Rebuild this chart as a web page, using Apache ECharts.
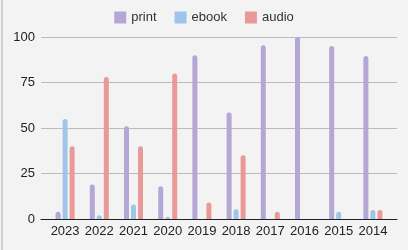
<!DOCTYPE html>
<html><head><meta charset="utf-8">
<script src="https://cdn.jsdelivr.net/npm/echarts@6/dist/echarts.min.js"></script>
<style>html,body{margin:0;padding:0;background:#f3f3f3;}#c{width:408px;height:250px;}</style>
</head><body><div id="c"></div>
<script>
const categories = ['2023','2022','2021','2020','2019','2018','2017','2016','2015','2014'];
const printVals = [4, 19, 51, 18, 90, 58.5, 95.5, 100, 95, 89.5];
const ebookVals = [55, 2, 8, 1.3, 0, 5.3, 0, 0, 4, 5];
const audioVals = [40, 78, 40, 80, 9, 35, 4, 0, 0, 5];
const yTicks = [0, 25, 50, 75, 100];
const seriesNames = ['print', 'ebook', 'audio'];
const colors = ['#b4a7d6', '#9fc5e8', '#ea9999'];

const chart = echarts.init(document.getElementById('c'), null, {renderer: 'canvas'});
const font = 'Liberation Sans, Arial, sans-serif';
const vals = [printVals, ebookVals, audioVals];
chart.setOption({
  backgroundColor: '#f3f3f3',
  animation: false,
  color: colors,
  legend: {
    top: 6, left: 'center', itemWidth: 12, itemHeight: 12, itemGap: 18,
    icon: 'rect',
    textStyle: {fontFamily: font, fontSize: 13, color: '#333'},
    data: seriesNames
  },
  graphic: [{type: 'line', shape: {x1: 2, y1: 0, x2: 2, y2: 250}, style: {stroke: '#aaa', lineWidth: 1}}],
  grid: [
    {left: 41, right: 11, top: 37, bottom: 31},
    {left: 48, right: 18, top: 37, bottom: 31}
  ],
  xAxis: [
    {gridIndex: 0, type: 'category', data: categories,
     axisLine: {show: true, lineStyle: {color: '#222'}}, axisTick: {show: false}, axisLabel: {show: false}},
    {gridIndex: 1, type: 'category', data: categories,
     axisLine: {show: false}, axisTick: {show: false},
     axisLabel: {interval: 0, fontFamily: font, fontSize: 13, color: '#222', margin: 6}}
  ],
  yAxis: [
    {gridIndex: 0, type: 'value', min: 0, max: 100, interval: 25,
     axisLine: {show: false}, axisTick: {show: false},
     axisLabel: {fontFamily: font, fontSize: 13, color: '#222', margin: 6,
       customValues: yTicks},
     splitLine: {lineStyle: {color: '#bbb'}}},
    {gridIndex: 1, type: 'value', min: 0, max: 100, interval: 25, show: false}
  ],
  series: seriesNames.map((n, i) => ({
    name: n, type: 'bar', xAxisIndex: 1, yAxisIndex: 1,
    data: vals[i], barWidth: 5, barGap: '40%',
    itemStyle: {color: colors[i], borderRadius: [2.5, 2.5, 0, 0]}
  }))
});
</script></body></html>
